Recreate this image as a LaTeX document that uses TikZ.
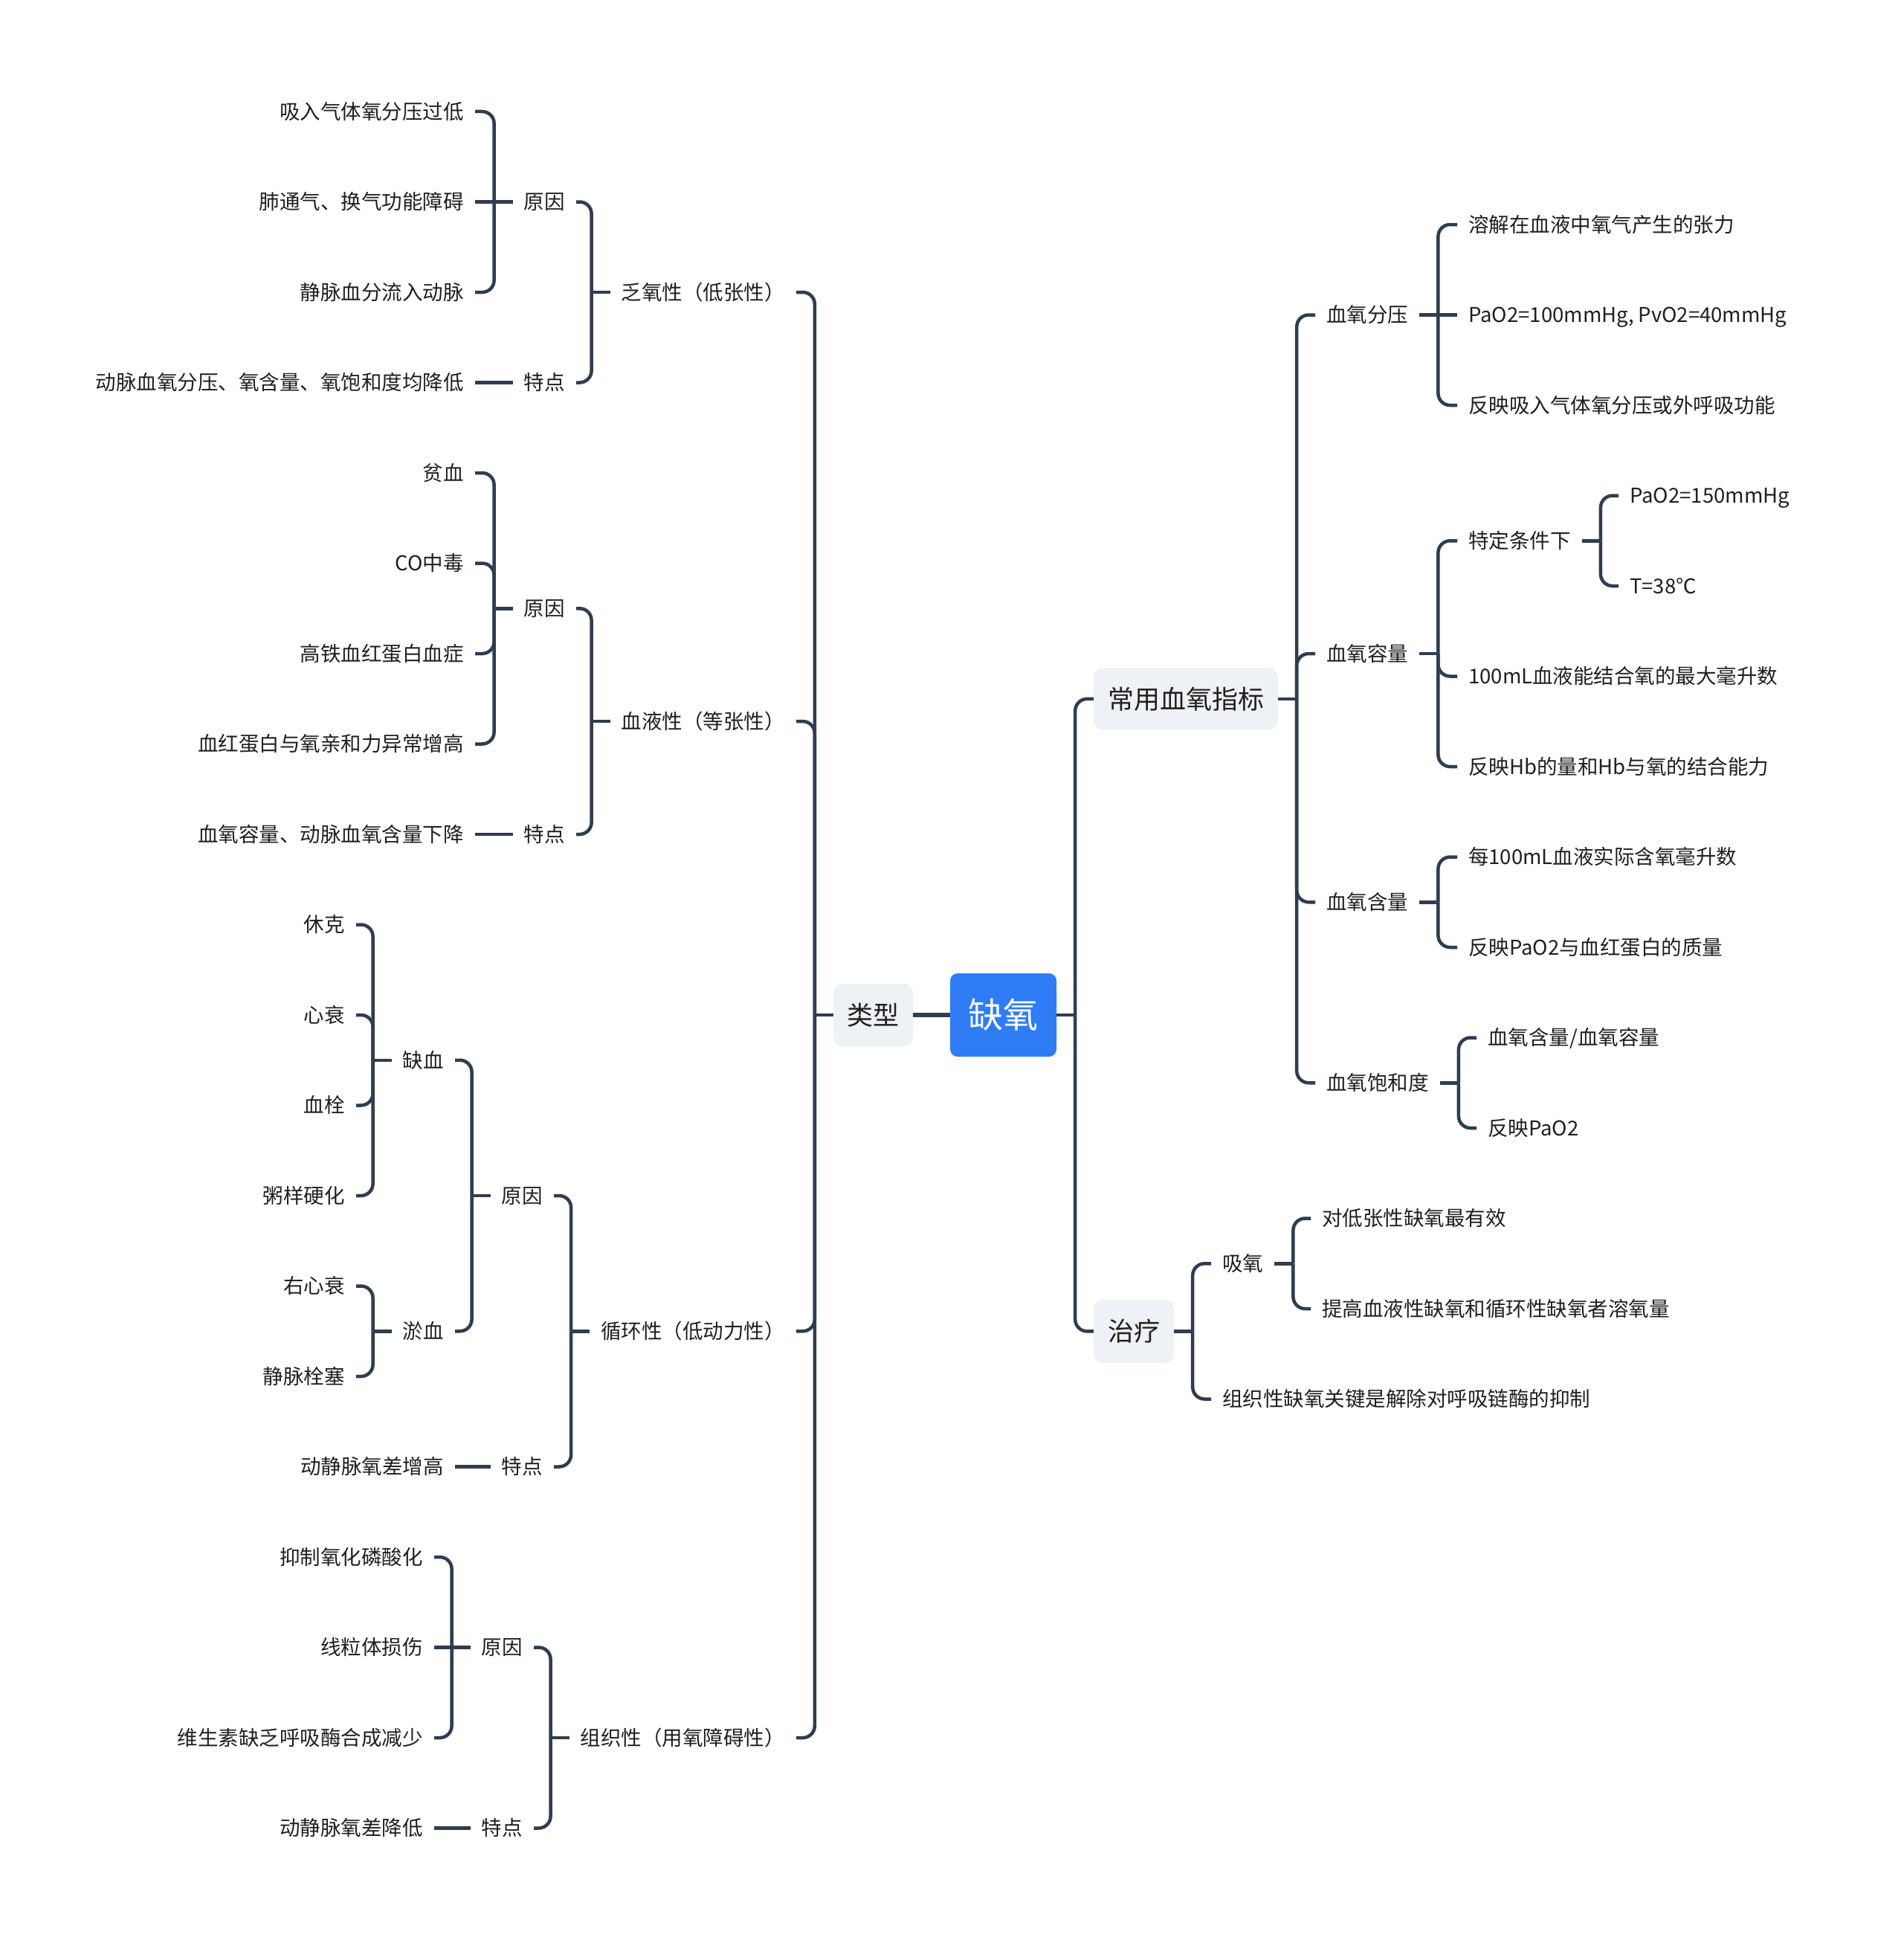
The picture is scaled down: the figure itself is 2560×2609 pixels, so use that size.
\documentclass[tikz,border=0pt]{standalone}
\usepackage{fontspec}
\setmainfont{Noto Sans CJK SC}
\definecolor{linec}{HTML}{2F3D50}
\definecolor{rootc}{HTML}{2E7CF6}
\definecolor{boxc}{HTML}{EEF1F5}
\definecolor{textc}{HTML}{1F1F1F}
\begin{document}
\begin{tikzpicture}[x=1pt,y=-1pt,
  conn/.style={draw=linec, line width=4.5pt, rounded corners=16pt},
  straight/.style={draw=linec, line width=4.5pt},
  leaf/.style={inner xsep=15pt, inner ysep=0pt, text height=24.2pt, text depth=3.3pt, font=\fontsize{27.5}{33}\selectfont, text=textc},
  lbox/.style={fill=boxc, rounded corners=12pt, inner sep=0pt, text height=30.8pt, text depth=4.2pt, font=\fontsize{35}{42}\selectfont, text=textc},
  rootbox/.style={fill=rootc, rounded corners=10pt, inner sep=0pt, minimum width=143pt, minimum height=112pt, text=white, font=\fontsize{47}{56}\selectfont, text height=41.4pt, text depth=5.6pt}
  ]
\fill[white] (0,0) rectangle (2560,2609);
\useasboundingbox (0,0) rectangle (2560,2609);

% ---------- central nodes ----------
\node[rootbox] (X) at (1349.5,1365) {缺氧};
\node[lbox, minimum width=107pt, minimum height=84pt] (L) at (1174.5,1365) {类型};
\node[lbox, minimum width=248pt, minimum height=83pt] (K) at (1595,939.9) {常用血氧指标};
\node[lbox, minimum width=108pt, minimum height=85pt] (Z) at (1525,1790.4) {治疗};

% ---------- left: level 2 ----------
\node[leaf, anchor=east] (A) at (1071,393) {乏氧性（低张性）};
\node[leaf, anchor=east] (B) at (1071,970.1) {血液性（等张性）};
\node[leaf, anchor=east] (C) at (1071,1790.25) {循环性（低动力性）};
\node[leaf, anchor=east] (D) at (1071,2337) {组织性（用氧障碍性）};

% branch A
\node[leaf, anchor=east] (aY) at (775,271.5) {原因};
\node[leaf, anchor=east] (aT) at (775,514.5) {特点};
\node[leaf, anchor=east] (a1) at (639,150) {吸入气体氧分压过低};
\node[leaf, anchor=east] (a2) at (639,271.5) {肺通气、换气功能障碍};
\node[leaf, anchor=east] (a3) at (639,393) {静脉血分流入动脉};
\node[leaf, anchor=east] (a4) at (639,514.5) {动脉血氧分压、氧含量、氧饱和度均降低};

% branch B
\node[leaf, anchor=east] (bY) at (775,818.25) {原因};
\node[leaf, anchor=east] (bT) at (775,1122) {特点};
\node[leaf, anchor=east] (b1) at (639,636) {贫血};
\node[leaf, anchor=east] (b2) at (639,757.5) {CO中毒};
\node[leaf, anchor=east] (b3) at (639,879) {高铁血红蛋白血症};
\node[leaf, anchor=east] (b4) at (639,1000.5) {血红蛋白与氧亲和力异常增高};
\node[leaf, anchor=east] (b5) at (639,1122) {血氧容量、动脉血氧含量下降};

% branch C
\node[leaf, anchor=east] (cY) at (745,1608) {原因};
\node[leaf, anchor=east] (cT) at (745,1972.5) {特点};
\node[leaf, anchor=east] (cQ) at (612,1425.75) {缺血};
\node[leaf, anchor=east] (cU) at (612,1790.25) {淤血};
\node[leaf, anchor=east] (c1) at (479,1243.5) {休克};
\node[leaf, anchor=east] (c2) at (479,1365) {心衰};
\node[leaf, anchor=east] (c3) at (479,1486.5) {血栓};
\node[leaf, anchor=east] (c4) at (479,1608) {粥样硬化};
\node[leaf, anchor=east] (c5) at (479,1729.5) {右心衰};
\node[leaf, anchor=east] (c6) at (479,1851) {静脉栓塞};
\node[leaf, anchor=east] (c7) at (612,1972.5) {动静脉氧差增高};

% branch D
\node[leaf, anchor=east] (dY) at (718,2215.5) {原因};
\node[leaf, anchor=east] (dT) at (718,2458.5) {特点};
\node[leaf, anchor=east] (d1) at (584,2094) {抑制氧化磷酸化};
\node[leaf, anchor=east] (d2) at (584,2215.5) {线粒体损伤};
\node[leaf, anchor=east] (d3) at (584,2337) {维生素缺乏呼吸酶合成减少};
\node[leaf, anchor=east] (d4) at (584,2458.5) {动静脉氧差降低};

% ---------- right ----------
\node[leaf, anchor=west] (k1) at (1769,423.5) {血氧分压};
\node[leaf, anchor=west] (k2) at (1769,879.1) {血氧容量};
\node[leaf, anchor=west] (k3) at (1769,1213.25) {血氧含量};
\node[leaf, anchor=west] (k4) at (1769,1456.25) {血氧饱和度};

\node[leaf, anchor=west] (k11) at (1960,302) {溶解在血液中氧气产生的张力};
\node[leaf, anchor=west] (k12) at (1960,423.5) {PaO2=100mmHg, PvO2=40mmHg};
\node[leaf, anchor=west] (k13) at (1960,545) {反映吸入气体氧分压或外呼吸功能};

\node[leaf, anchor=west] (k21) at (1960,727.25) {特定条件下};
\node[leaf, anchor=west] (k22) at (1960,909.5) {100mL血液能结合氧的最大毫升数};
\node[leaf, anchor=west] (k23) at (1960,1031) {反映Hb的量和Hb与氧的结合能力};
\node[leaf, anchor=west] (k211) at (2177,666.5) {PaO2=150mmHg};
\node[leaf, anchor=west] (k212) at (2177,788) {T=38℃};

\node[leaf, anchor=west] (k31) at (1960,1152.5) {每100mL血液实际含氧毫升数};
\node[leaf, anchor=west] (k32) at (1960,1274) {反映PaO2与血红蛋白的质量};

\node[leaf, anchor=west] (k41) at (1986,1395.5) {血氧含量/血氧容量};
\node[leaf, anchor=west] (k42) at (1986,1517) {反映PaO2};

\node[leaf, anchor=west] (z1) at (1629,1699.25) {吸氧};
\node[leaf, anchor=west] (z2) at (1629,1881.5) {组织性缺氧关键是解除对呼吸链酶的抑制};
\node[leaf, anchor=west] (z11) at (1763,1638.5) {对低张性缺氧最有效};
\node[leaf, anchor=west] (z12) at (1763,1760) {提高血液性缺氧和循环性缺氧者溶氧量};

% ---------- connectors: centre ----------
\draw[straight, line width=6pt] (L.east) -- (X.west);

\coordinate (sL) at ([xshift=-25pt]L.west);
\draw[straight] (L.west) -- (sL);
\foreach \c in {A,B,C,D} \draw[conn] (\c.east) -- (\c.east -| sL) -- (sL);

% A
\coordinate (sA) at ([xshift=-25pt]A.west);
\draw[straight] (A.west) -- (sA);
\foreach \c in {aY,aT} \draw[conn] (\c.east) -- (\c.east -| sA) -- (sA);
\coordinate (saY) at ([xshift=-25pt]aY.west);
\draw[straight] (aY.west) -- (saY);
\foreach \c in {a1,a3} \draw[conn] (\c.east) -- (\c.east -| saY) -- (saY);
\draw[straight] (a2.east) -- (saY);
\draw[straight] (a4.east) -- (aT.west);

% B
\coordinate (sB) at ([xshift=-25pt]B.west);
\draw[straight] (B.west) -- (sB);
\foreach \c in {bY,bT} \draw[conn] (\c.east) -- (\c.east -| sB) -- (sB);
\coordinate (sbY) at ([xshift=-25pt]bY.west);
\draw[straight] (bY.west) -- (sbY);
\foreach \c in {b1,b2,b3,b4} \draw[conn] (\c.east) -- (\c.east -| sbY) -- (sbY);
\draw[straight] (b5.east) -- (bT.west);

% C
\coordinate (sC) at ([xshift=-25pt]C.west);
\draw[straight] (C.west) -- (sC);
\foreach \c in {cY,cT} \draw[conn] (\c.east) -- (\c.east -| sC) -- (sC);
\coordinate (scY) at ([xshift=-25pt]cY.west);
\draw[straight] (cY.west) -- (scY);
\foreach \c in {cQ,cU} \draw[conn] (\c.east) -- (\c.east -| scY) -- (scY);
\coordinate (scQ) at ([xshift=-25pt]cQ.west);
\draw[straight] (cQ.west) -- (scQ);
\foreach \c in {c1,c2,c3,c4} \draw[conn] (\c.east) -- (\c.east -| scQ) -- (scQ);
\coordinate (scU) at ([xshift=-25pt]cU.west);
\draw[straight] (cU.west) -- (scU);
\foreach \c in {c5,c6} \draw[conn] (\c.east) -- (\c.east -| scU) -- (scU);
\draw[straight] (c7.east) -- (cT.west);

% D
\coordinate (sD) at ([xshift=-25pt]D.west);
\draw[straight] (D.west) -- (sD);
\foreach \c in {dY,dT} \draw[conn] (\c.east) -- (\c.east -| sD) -- (sD);
\coordinate (sdY) at ([xshift=-25pt]dY.west);
\draw[straight] (dY.west) -- (sdY);
\foreach \c in {d1,d3} \draw[conn] (\c.east) -- (\c.east -| sdY) -- (sdY);
\draw[straight] (d2.east) -- (sdY);
\draw[straight] (d4.east) -- (dT.west);

% ---------- connectors: right ----------
\coordinate (sX) at ([xshift=25pt]X.east);
\draw[straight] (X.east) -- (sX);
\foreach \c in {K,Z} \draw[conn] (\c.west) -- (\c.west -| sX) -- (sX);

\coordinate (sK) at ([xshift=25pt]K.east);
\draw[straight] (K.east) -- (sK);
\foreach \c in {k1,k2,k3,k4} \draw[conn] (\c.west) -- (\c.west -| sK) -- (sK);

\coordinate (sk1) at ([xshift=25pt]k1.east);
\draw[straight] (k1.east) -- (sk1);
\foreach \c in {k11,k13} \draw[conn] (\c.west) -- (\c.west -| sk1) -- (sk1);
\draw[straight] (k12.west) -- (sk1);

\coordinate (sk2) at ([xshift=25pt]k2.east);
\draw[straight] (k2.east) -- (sk2);
\foreach \c in {k21,k22,k23} \draw[conn] (\c.west) -- (\c.west -| sk2) -- (sk2);

\coordinate (sk21) at ([xshift=25pt]k21.east);
\draw[straight] (k21.east) -- (sk21);
\foreach \c in {k211,k212} \draw[conn] (\c.west) -- (\c.west -| sk21) -- (sk21);

\coordinate (sk3) at ([xshift=25pt]k3.east);
\draw[straight] (k3.east) -- (sk3);
\foreach \c in {k31,k32} \draw[conn] (\c.west) -- (\c.west -| sk3) -- (sk3);

\coordinate (sk4) at ([xshift=25pt]k4.east);
\draw[straight] (k4.east) -- (sk4);
\foreach \c in {k41,k42} \draw[conn] (\c.west) -- (\c.west -| sk4) -- (sk4);

\coordinate (sZ) at ([xshift=25pt]Z.east);
\draw[straight] (Z.east) -- (sZ);
\foreach \c in {z1,z2} \draw[conn] (\c.west) -- (\c.west -| sZ) -- (sZ);

\coordinate (sz1) at ([xshift=25pt]z1.east);
\draw[straight] (z1.east) -- (sz1);
\foreach \c in {z11,z12} \draw[conn] (\c.west) -- (\c.west -| sz1) -- (sz1);
\end{tikzpicture}
\end{document}
